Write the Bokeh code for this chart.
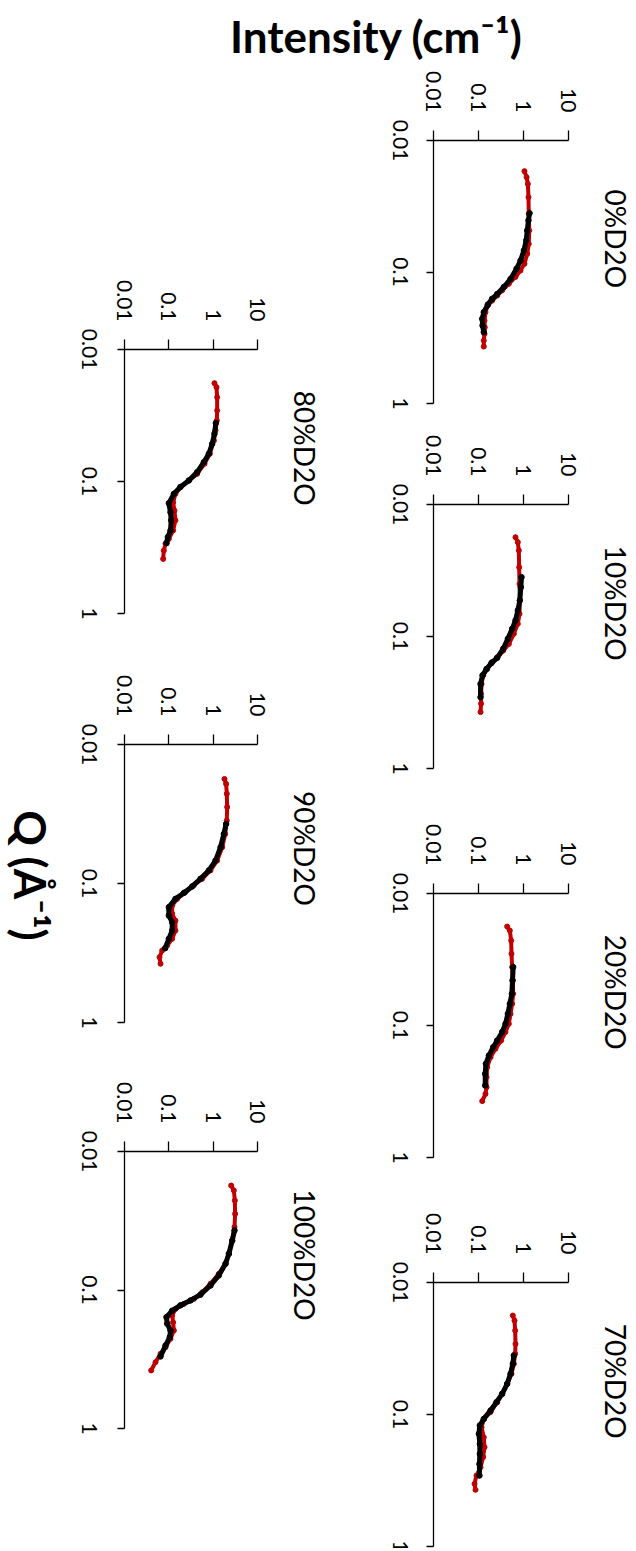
import math
from bokeh.plotting import figure
from bokeh.models import Range1d, FixedTicker, NumeralTickFormatter, Label, LabelSet, ColumnDataSource
from bokeh.layouts import row, column
from bokeh.core.properties import value
from bokeh.embed import file_html
from bokeh.resources import INLINE

FONT = "Lato"
RED = "#C00000"

# ---- tick values / labels ----
I_TICKS = [0.01, 0.1, 1, 10]
Q_TICKS = [0.01, 0.1, 1]
Q_TICK_LABELS = ["0.01", "0.1", "1"]

TITLE_TEXT = "Intensity (cm\u207b\u00b9)"
Q_TEXT = "Q (\u00c5\u207b\u00b9)"

# ---- data: Q (1/A) and Intensity (1/cm) ----
Q_RED_0 = [0.0171, 0.0190, 0.0214, 0.0270, 0.0361, 0.0483, 0.0611, 0.0728, 0.0867, 0.0975, 0.109, 0.123, 0.138, 0.151, 0.165, 0.180, 0.202, 0.234, 0.263, 0.295, 0.332, 0.369]
I_RED_0 = [1.05, 1.17, 1.25, 1.29, 1.31, 1.34, 1.31, 1.21, 1.05, 0.858, 0.664, 0.472, 0.336, 0.260, 0.201, 0.161, 0.143, 0.136, 0.138, 0.136, 0.131, 0.131]
Q_FIT_0 = [0.0357, 0.0405, 0.0483, 0.0575, 0.0687, 0.0819, 0.0946, 0.113, 0.130, 0.147, 0.160, 0.177, 0.202, 0.227, 0.255, 0.287]
I_FIT_0 = [1.36, 1.29, 1.21, 1.15, 1.02, 0.858, 0.699, 0.514, 0.366, 0.260, 0.201, 0.161, 0.131, 0.121, 0.123, 0.131]

Q_RED_10 = [0.0177, 0.0193, 0.0223, 0.0299, 0.0399, 0.0533, 0.0673, 0.0802, 0.0955, 0.114, 0.128, 0.144, 0.156, 0.176, 0.197, 0.229, 0.272, 0.323, 0.374]
I_RED_10 = [0.664, 0.748, 0.787, 0.801, 0.815, 0.829, 0.815, 0.748, 0.610, 0.472, 0.353, 0.260, 0.201, 0.156, 0.127, 0.117, 0.114, 0.114, 0.111]
Q_FIT_10 = [0.0355, 0.0423, 0.0533, 0.0635, 0.0757, 0.0875, 0.104, 0.124, 0.145, 0.159, 0.176, 0.197, 0.229, 0.288]
I_FIT_10 = [0.903, 0.873, 0.829, 0.748, 0.664, 0.560, 0.449, 0.353, 0.260, 0.194, 0.151, 0.123, 0.111, 0.111]

Q_RED_20 = [0.0178, 0.0191, 0.0227, 0.0286, 0.0361, 0.0456, 0.0575, 0.0685, 0.0817, 0.0971, 0.112, 0.130, 0.150, 0.174, 0.207, 0.246, 0.293, 0.330, 0.374]
I_RED_20 = [0.434, 0.497, 0.532, 0.541, 0.560, 0.579, 0.589, 0.560, 0.514, 0.472, 0.398, 0.319, 0.239, 0.185, 0.156, 0.151, 0.151, 0.143, 0.121]
Q_FIT_20 = [0.0361, 0.0456, 0.0575, 0.0685, 0.0817, 0.0971, 0.112, 0.130, 0.146, 0.169, 0.195, 0.232, 0.285]
I_FIT_20 = [0.589, 0.570, 0.551, 0.497, 0.449, 0.398, 0.336, 0.260, 0.212, 0.170, 0.146, 0.141, 0.141]

Q_RED_70 = [0.0178, 0.0194, 0.0231, 0.0292, 0.0347, 0.0413, 0.0492, 0.0586, 0.0697, 0.0807, 0.0959, 0.108, 0.125, 0.149, 0.177, 0.210, 0.251, 0.290, 0.335, 0.372]
I_RED_70 = [0.579, 0.631, 0.653, 0.664, 0.653, 0.610, 0.541, 0.434, 0.336, 0.260, 0.185, 0.131, 0.117, 0.131, 0.136, 0.127, 0.111, 0.0903, 0.0815, 0.0858]
Q_FIT_70 = [0.0357, 0.0413, 0.0492, 0.0586, 0.0697, 0.0807, 0.0933, 0.108, 0.121, 0.140, 0.167, 0.199, 0.237, 0.290]
I_FIT_70 = [0.610, 0.579, 0.514, 0.434, 0.336, 0.251, 0.185, 0.131, 0.107, 0.102, 0.107, 0.107, 0.105, 0.105]

Q_RED_80 = [0.0180, 0.0193, 0.0230, 0.0290, 0.0345, 0.0411, 0.0489, 0.0616, 0.0734, 0.0875, 0.0982, 0.110, 0.124, 0.144, 0.166, 0.197, 0.235, 0.272, 0.296, 0.333, 0.386]
I_RED_80 = [1.07, 1.19, 1.23, 1.23, 1.21, 1.13, 1.04, 0.842, 0.638, 0.436, 0.283, 0.183, 0.141, 0.125, 0.134, 0.141, 0.125, 0.100, 0.0841, 0.0771, 0.0745]
Q_FIT_80 = [0.0361, 0.0435, 0.0519, 0.0616, 0.0714, 0.0849, 0.0982, 0.110, 0.124, 0.146, 0.171, 0.197, 0.235, 0.264, 0.293]
I_FIT_80 = [1.15, 1.07, 0.951, 0.798, 0.616, 0.436, 0.283, 0.183, 0.130, 0.100, 0.109, 0.113, 0.109, 0.0949, 0.0886]

Q_RED_90 = [0.0177, 0.0192, 0.0226, 0.0282, 0.0352, 0.0440, 0.0548, 0.0684, 0.0805, 0.0925, 0.103, 0.115, 0.129, 0.144, 0.165, 0.185, 0.218, 0.250, 0.279, 0.303, 0.339, 0.378]
I_RED_90 = [1.80, 1.96, 2.03, 2.07, 2.03, 1.87, 1.60, 1.23, 0.871, 0.565, 0.366, 0.238, 0.154, 0.119, 0.119, 0.141, 0.141, 0.119, 0.0918, 0.0708, 0.0617, 0.0649]
Q_FIT_90 = [0.0373, 0.0440, 0.0548, 0.0684, 0.0805, 0.0925, 0.105, 0.117, 0.129, 0.148, 0.170, 0.190, 0.218, 0.250, 0.292]
I_FIT_90 = [1.96, 1.74, 1.47, 1.13, 0.798, 0.518, 0.336, 0.218, 0.141, 0.100, 0.100, 0.119, 0.119, 0.100, 0.0826]

Q_RED_100 = [0.0176, 0.0191, 0.0226, 0.0282, 0.0351, 0.0440, 0.0548, 0.0647, 0.0764, 0.0901, 0.104, 0.116, 0.126, 0.137, 0.153, 0.171, 0.196, 0.225, 0.259, 0.289, 0.332, 0.381]
I_RED_100 = [2.55, 2.93, 3.08, 3.13, 3.03, 2.69, 2.26, 1.90, 1.34, 0.871, 0.565, 0.366, 0.218, 0.141, 0.119, 0.125, 0.130, 0.109, 0.0841, 0.0649, 0.0500, 0.0400]
Q_FIT_100 = [0.0371, 0.0440, 0.0548, 0.0647, 0.0785, 0.0928, 0.108, 0.119, 0.129, 0.141, 0.157, 0.175, 0.196, 0.219, 0.252, 0.302]
I_FIT_100 = [3.03, 2.69, 2.26, 1.90, 1.34, 0.871, 0.518, 0.308, 0.183, 0.119, 0.0886, 0.0918, 0.109, 0.105, 0.0841, 0.0649]

# ---- layout constants (page pixels) ----
TITLE_H = 64
LEFT_W = 340
RIGHT_W = 296


def make_panel(name, q_red, i_red, q_fit, i_fit, *, col_x0, col_w, row_y0, row_h,
               corner_x, corner_y, px_dec_i, px_dec_q, name_dx, qlab_dx, extra_label=None):
    """Panel figure whose frame fills the whole canvas; the axes are pinned
    at I=0.01 / Q=0.01 so that all texts stay inside the frame."""
    lo_i, hi_i = I_TICKS[0], I_TICKS[-1]
    lo_q, hi_q = Q_TICKS[0], Q_TICKS[-1]
    x0 = lo_i * 10 ** ((col_x0 - corner_x) / px_dec_i)
    x1 = lo_i * 10 ** ((col_x0 + col_w - corner_x) / px_dec_i)
    y_top = lo_q * 10 ** ((row_y0 - corner_y) / px_dec_q)
    y_bot = lo_q * 10 ** ((row_y0 + row_h - corner_y) / px_dec_q)

    p = figure(width=col_w, height=row_h, frame_width=col_w, frame_height=row_h,
               x_axis_type="log", y_axis_type="log",
               x_range=Range1d(x0, x1), y_range=Range1d(y_bot, y_top),
               x_axis_location="above", y_axis_location="left",
               toolbar_location=None, output_backend="svg",
               min_border_left=0, min_border_right=0, min_border_top=0, min_border_bottom=0)
    p.outline_line_color = None
    p.grid.visible = False
    p.background_fill_color = "white"
    p.border_fill_color = "white"

    xa = p.xaxis[0]
    xa.fixed_location = lo_q
    xa.bounds = (lo_i, hi_i)
    xa.ticker = FixedTicker(ticks=I_TICKS)
    xa.formatter = NumeralTickFormatter(format="0.[00]")
    xa.axis_line_color = "black"
    xa.axis_line_width = 1.3
    xa.major_tick_line_color = "black"
    xa.major_tick_line_width = 1.3
    xa.major_tick_out = 10
    xa.major_tick_in = 0
    xa.minor_tick_line_color = None
    xa.major_label_orientation = -math.pi / 2
    xa.major_label_standoff = 18
    xa.major_label_text_font = FONT
    xa.major_label_text_font_size = "21px"
    xa.major_label_text_color = "black"

    ya = p.yaxis[0]
    ya.fixed_location = lo_i
    ya.bounds = (lo_q, hi_q)
    ya.ticker = FixedTicker(ticks=Q_TICKS)
    ya.axis_line_color = "black"
    ya.axis_line_width = 1.3
    ya.major_tick_line_color = "black"
    ya.major_tick_line_width = 1.3
    ya.major_tick_out = 7
    ya.major_tick_in = 0
    ya.minor_tick_line_color = None
    ya.major_label_text_color = None

    # Q tick labels (rotated clockwise, centred on the ticks)
    src = ColumnDataSource(dict(x=[lo_i] * len(Q_TICKS), y=Q_TICKS, text=Q_TICK_LABELS))
    p.add_layout(LabelSet(x="x", y="y", text="text", source=src, x_offset=qlab_dx,
                          angle=-math.pi / 2, text_align="center", text_baseline="middle",
                          text_font=value(FONT), text_font_size=value("21px"),
                          text_color="black"))

    # measured data (red) and fit (black)
    p.line(i_red, q_red, line_color=RED, line_width=4, line_join="round", line_cap="round")
    p.scatter(i_red, q_red, size=5, fill_color=RED, line_color=RED)
    p.line(i_fit, q_fit, line_color="black", line_width=5, line_join="round", line_cap="round")
    p.scatter(i_fit, q_fit, size=5.5, fill_color="black", line_color="black")

    # panel name
    p.add_layout(Label(x=hi_i, y=0.056, x_offset=name_dx, text=name, angle=-math.pi / 2,
                       text_align="center", text_baseline="middle",
                       text_font=FONT, text_font_size="28px", text_color="black"))
    if extra_label is not None:
        p.add_layout(extra_label)
    return p


R = dict(col_x0=LEFT_W, col_w=RIGHT_W, corner_x=433, px_dec_i=45.0, name_dx=47, qlab_dx=-33)
f0 = make_panel("0%D2O", Q_RED_0, I_RED_0, Q_FIT_0, I_FIT_0,
                row_y0=64, row_h=350, corner_y=140, px_dec_q=131.5, **R)
f10 = make_panel("10%D2O", Q_RED_10, I_RED_10, Q_FIT_10, I_FIT_10,
                 row_y0=414, row_h=366, corner_y=504, px_dec_q=132, **R)
f20 = make_panel("20%D2O", Q_RED_20, I_RED_20, Q_FIT_20, I_FIT_20,
                 row_y0=780, row_h=385, corner_y=893, px_dec_q=132, **R)
f70 = make_panel("70%D2O", Q_RED_70, I_RED_70, Q_FIT_70, I_FIT_70,
                 row_y0=1165, row_h=383, corner_y=1282, px_dec_q=132, **R)

L = dict(col_x0=0, col_w=LEFT_W, corner_x=124, px_dec_i=44.33, name_dx=48, qlab_dx=-35)
q_title = Label(x=0.01, y=0.01, x_offset=-94, y_offset=-131, text=Q_TEXT, angle=-math.pi / 2,
                text_align="center", text_baseline="middle", text_font=FONT,
                text_font_size="44px", text_font_style="bold", text_color="black")
f80 = make_panel("80%D2O", Q_RED_80, I_RED_80, Q_FIT_80, I_FIT_80,
                 row_y0=64, row_h=564, corner_y=349, px_dec_q=132, **L)
f90 = make_panel("90%D2O", Q_RED_90, I_RED_90, Q_FIT_90, I_FIT_90,
                 row_y0=628, row_h=412, corner_y=744, px_dec_q=139, extra_label=q_title, **L)
f100 = make_panel("100%D2O", Q_RED_100, I_RED_100, Q_FIT_100, I_FIT_100,
                  row_y0=1040, row_h=500, corner_y=1151, px_dec_q=138.5, **L)

# title strip
t = figure(width=LEFT_W + RIGHT_W, height=TITLE_H, frame_width=LEFT_W + RIGHT_W, frame_height=TITLE_H,
           x_range=Range1d(0, LEFT_W + RIGHT_W), y_range=Range1d(0, TITLE_H),
           x_axis_location=None, y_axis_location=None,
           toolbar_location=None, output_backend="svg",
           min_border_left=0, min_border_right=0, min_border_top=0, min_border_bottom=0)
t.outline_line_color = None
t.grid.visible = False
t.add_layout(Label(x=376, y=TITLE_H - 35, text=TITLE_TEXT, text_align="center", text_baseline="middle",
                   text_font=FONT, text_font_size="44px", text_font_style="bold", text_color="black"))

layout = column(t, row(column(f80, f90, f100), column(f0, f10, f20, f70)))

open("out.html", "w").write(file_html(layout, INLINE))
